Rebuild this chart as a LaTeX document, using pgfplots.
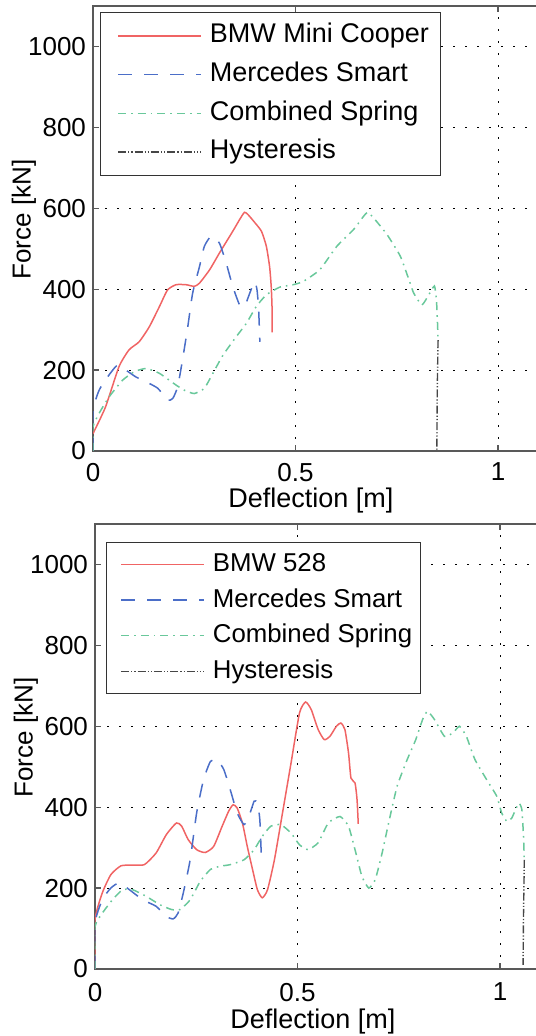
\documentclass[border=0pt]{standalone}
\usepackage{fontspec}
\setmainfont{Liberation Sans}
\usepackage{pgfplots}
\pgfplotsset{compat=1.18}

\definecolor{bmw}{RGB}{240,100,100}
\definecolor{smart}{RGB}{75,110,200}
\definecolor{spring}{RGB}{105,200,155}
\definecolor{hyst}{RGB}{70,70,70}

\pgfplotsset{
  crash/.style={
    scale only axis, width=222.75pt, height=222.5pt,
    xmin=0, xmax=1.1, ymin=0, ymax=1100,
    xtick={0,0.5,1}, ytick={0,200,...,1000},
    ytick pos=left,
    major tick length=3pt,
    axis line style={black!65, line width=0.75pt},
    every tick/.style={black!65, line width=0.6pt},
    grid=major,
    grid style={black, line width=0.5pt, dash pattern=on 1.2pt off 4.8pt},
    /pgf/number format/assume math mode=true,
    /pgf/number format/1000 sep={},
    tick label style={font=\fontsize{13}{15}\selectfont},
    xticklabel style={yshift=-2.5pt},
    xlabel={Deflection [m]}, ylabel={Force [kN]},
    every axis x label/.style={at={(axis description cs:0.489,-0.112)}, anchor=center,
      font=\fontsize{13.5}{16}\selectfont},
    every axis y label/.style={at={(axis description cs:-0.155,0.52)}, rotate=90, anchor=center,
      font=\fontsize{13}{16}\selectfont},
    legend cell align=left,
    legend image code/.code={\path (0pt,0pt); \draw[#1] (4pt,0pt) -- (45.5pt,0pt);},
    legend style={draw=black!80, fill=white,
      at={(axis description cs:0,1)}, anchor=north west,
      inner xsep=4.5pt, inner ysep=3.75pt, row sep=3.35pt, column sep=3pt,
      nodes={inner xsep=1pt, inner ysep=1.5pt, text height=10pt, text depth=3pt}},
  },
  bmwline/.style={draw=bmw, line width=0.75pt, smooth, tension=0.35},
  smartline/.style={draw=smart, line width=0.75pt, smooth, tension=0.35, dash pattern=on 7pt off 6pt},
  springline/.style={draw=spring, line width=0.75pt, smooth, tension=0.3, dash pattern=on 4pt off 2.5pt on 0.8pt off 2.5pt},
  hystline/.style={draw=hyst, line width=0.7pt, dash pattern=on 4pt off 1pt on 0.6pt off 1pt on 0.6pt off 1pt},
}

\begin{document}
\begin{tikzpicture}
% top: Mini Cooper
\begin{axis}[crash,
  legend style={xshift=3.5pt, yshift=-3pt, font=\fontsize{13.5}{16}\selectfont}]
\addplot[bmwline] coordinates {
(0,43)(0.031,109)(0.064,208)(0.089,250)(0.114,270)(0.139,307)(0.164,357)(0.184,398)
(0.205,411)(0.230,411)(0.250,407)(0.263,415)(0.288,448)(0.312,489)(0.345,543)(0.362,572)
(0.374,590)(0.383,584)(0.400,564)(0.416,543)(0.428,506)(0.436,456)(0.440,407)(0.442,357)(0.442,293)
};
\addlegendentry{BMW Mini Cooper}
\addplot[smartline] coordinates {
(0,0)(0,100)(0.015,150)(0.036,183)(0.060,212)(0.081,200)(0.106,183)(0.131,171)(0.160,155)
(0.184,126)(0.197,130)(0.209,159)(0.221,225)(0.234,307)(0.246,390)(0.263,456)(0.275,506)
(0.292,531)(0.312,514)(0.329,464)(0.345,407)(0.362,361)(0.374,357)(0.387,390)(0.399,419)
(0.405,398)(0.409,349)(0.412,270)
};
\addlegendentry{Mercedes Smart}
\addplot[springline] coordinates {
(0,0)(0,60)(0.015,93)(0.040,134)(0.073,175)(0.102,196)(0.131,204)(0.164,192)(0.205,163)
(0.226,150)(0.250,142)(0.275,155)(0.296,192)(0.321,237)(0.354,283)(0.379,316)(0.403,357)
(0.428,386)(0.461,405)(0.494,411)(0.519,419)(0.560,448)(0.602,506)(0.643,547)(0.668,580)
(0.678,590)(0.693,576)(0.726,535)(0.759,481)(0.783,415)(0.792,390)(0.812,361)(0.829,386)
(0.843,408)(0.848,374)(0.851,307)(0.852,274)
};
\addlegendentry{Combined Spring}
\addplot[hystline] coordinates {(0.852,274)(0.850,150)(0.849,0)};
\addlegendentry{Hysteresis}
\end{axis}

% bottom: BMW 528
\begin{axis}[crash, at={(1pt,-259pt)},
  xticklabel style={yshift=-1pt},
  every axis x label/.style={at={(axis description cs:0.489,-0.118)}, anchor=center,
    font=\fontsize{13.5}{16}\selectfont},
  legend style={xshift=5.5pt, yshift=-9pt, font=\fontsize{12.9}{15}\selectfont,
    row sep=1.8pt, inner ysep=3pt, inner xsep=3pt}]
\addplot[bmwline] coordinates {
(0,0)(0,122)(0.018,188)(0.039,233)(0.064,255)(0.093,257)(0.122,258)(0.151,287)(0.176,332)
(0.201,361)(0.214,353)(0.230,320)(0.251,295)(0.272,288)(0.293,303)(0.314,353)(0.330,390)
(0.341,406)(0.351,398)(0.364,361)(0.376,303)(0.389,246)(0.401,196)(0.413,176)(0.426,196)
(0.443,270)(0.463,386)(0.484,509)(0.505,633)(0.520,660)(0.534,641)(0.551,592)(0.566,567)
(0.580,575)(0.596,600)(0.607,608)(0.617,592)(0.626,534)(0.632,472)(0.642,460)(0.647,419)(0.650,359)
};
\addlegendentry{BMW 528}
\addplot[smartline] coordinates {
(0,0)(0,114)(0.018,171)(0.039,200)(0.060,213)(0.085,196)(0.118,171)(0.151,155)(0.176,130)
(0.193,124)(0.205,138)(0.218,188)(0.235,270)(0.251,386)(0.268,468)(0.285,513)(0.301,518)
(0.318,493)(0.334,443)(0.351,386)(0.368,357)(0.380,377)(0.393,415)(0.401,410)(0.407,369)(0.411,270)
};
\addlegendentry{Mercedes Smart}
\addplot[springline] coordinates {
(0,0)(0,105)(0.018,138)(0.043,171)(0.068,196)(0.093,196)(0.126,180)(0.160,159)(0.189,147)
(0.210,147)(0.235,171)(0.260,217)(0.285,246)(0.309,254)(0.334,258)(0.368,270)(0.393,295)
(0.413,328)(0.434,353)(0.459,357)(0.484,336)(0.505,307)(0.526,295)(0.551,312)(0.576,361)
(0.605,377)(0.626,353)(0.642,295)(0.659,229)(0.676,200)(0.692,221)(0.709,287)(0.725,361)
(0.746,452)(0.771,518)(0.792,567)(0.809,617)(0.821,637)(0.838,617)(0.863,575)(0.884,584)
(0.900,600)(0.917,575)(0.938,518)(0.967,468)(0.992,427)(1.004,386)(1.017,365)(1.029,373)
(1.046,410)(1.054,394)(1.058,328)(1.060,270)
};
\addlegendentry{Combined Spring}
\addplot[hystline] coordinates {(1.060,270)(1.058,130)(1.057,10)};
\addlegendentry{Hysteresis}
\end{axis}

\pgfresetboundingbox
\path (-46.5pt,-292.5pt) rectangle (221pt,225.5pt);
\end{tikzpicture}
\end{document}
